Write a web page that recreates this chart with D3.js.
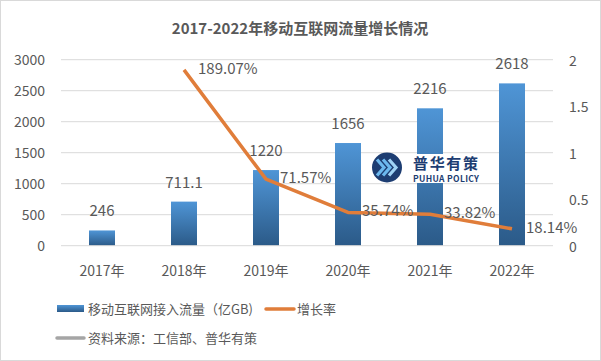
<!DOCTYPE html>
<html>
<head>
<meta charset="utf-8">
<script src="https://cdn.jsdelivr.net/npm/d3@7"></script>
<style>
  body { margin: 0; background: #fff; }
  text { font-family: "Noto Sans CJK SC", "Noto Sans", sans-serif; fill: #595959; }
</style>
</head>
<body>
<div id="chart"></div>
<script>
// data
let years = ["2017年", "2018年", "2019年", "2020年", "2021年", "2022年"];
let traffic = [246, 711.1, 1220, 1656, 2216, 2618];
let growthYears = ["2018年", "2019年", "2020年", "2021年", "2022年"];
let growth = [1.8907, 0.7157, 0.3574, 0.3382, 0.1814];
let growthLabels = ["189.07%", "71.57%", "35.74%", "33.82%", "18.14%"];
let leftTicks = [0, 500, 1000, 1500, 2000, 2500, 3000];
let rightTicks = [0, 0.5, 1, 1.5, 2];

let width = 601, height = 361;
let plotLeft = 61, plotRight = 553, plotTop = 59.7, plotBottom = 245.7;

let svg = d3.select("#chart").append("svg")
    .attr("width", width)
    .attr("height", height);

// outer frame
svg.append("rect")
  .attr("x", 0.5).attr("y", 0.5)
  .attr("width", width - 1).attr("height", height - 1)
  .attr("fill", "#fff").attr("stroke", "#d9d9d9");

let defs = svg.append("defs");
let grad = defs.append("linearGradient")
  .attr("id", "barGrad")
  .attr("x1", 0).attr("y1", 0).attr("x2", 0).attr("y2", 1);
grad.append("stop").attr("offset", "0%").attr("stop-color", "#4f95d6");
grad.append("stop").attr("offset", "100%").attr("stop-color", "#2b5a88");

let xScale = d3.scaleBand().domain(years).range([plotLeft, plotRight]);
let yLeft = d3.scaleLinear().domain([0, 3000]).range([plotBottom, plotTop]);
let yRight = d3.scaleLinear().domain([0, 2]).range([plotBottom, plotTop]);

function xMid(label) {
  return xScale(label) + xScale.bandwidth() / 2;
}

// title
svg.append("text")
  .attr("x", 300).attr("y", 34)
  .attr("text-anchor", "middle")
  .style("font-size", "15px")
  .style("font-weight", "bold")
  .text("2017-2022年移动互联网流量增长情况");

// gridlines
svg.append("g").selectAll("line")
  .data(leftTicks.slice(1))
  .enter().append("line")
  .attr("x1", plotLeft).attr("x2", plotRight)
  .attr("y1", d => yLeft(d)).attr("y2", d => yLeft(d))
  .attr("stroke", "#d9d9d9").attr("stroke-width", 1);

// left axis
let leftAxis = svg.append("g")
  .attr("transform", "translate(" + plotLeft + ",0)")
  .call(d3.axisLeft(yLeft).tickValues(leftTicks).tickSize(0).tickPadding(16)
    .tickFormat(d3.format("d")));
leftAxis.select(".domain").remove();
leftAxis.selectAll("text").style("font-size", "14px").attr("fill", "#595959");

// right axis
let rightAxis = svg.append("g")
  .attr("transform", "translate(" + plotRight + ",0)")
  .call(d3.axisRight(yRight).tickValues(rightTicks).tickSize(0).tickPadding(16)
    .tickFormat(d3.format("")));
rightAxis.select(".domain").remove();
rightAxis.selectAll("text").style("font-size", "14px").attr("fill", "#595959")
  .attr("dy", "0.4em");

// bars
let barW = 26;
svg.append("g").selectAll("rect")
  .data(traffic)
  .enter().append("rect")
  .attr("x", (d, i) => xMid(years[i]) - barW / 2)
  .attr("y", d => yLeft(d))
  .attr("width", barW)
  .attr("height", d => yLeft(0) - yLeft(d))
  .attr("fill", "url(#barGrad)");

svg.append("g").selectAll("text")
  .data(traffic)
  .enter().append("text")
  .attr("x", (d, i) => xMid(years[i]))
  .attr("y", d => yLeft(d) - 14)
  .attr("text-anchor", "middle")
  .style("font-size", "15px")
  .text(d => d);

// baseline
svg.append("line")
  .attr("x1", plotLeft).attr("x2", plotRight)
  .attr("y1", plotBottom).attr("y2", plotBottom)
  .attr("stroke", "#d9d9d9");

// watermark logo (white backed, sits over the bars)
svg.append("rect")
  .attr("x", 405).attr("y", 154).attr("width", 80).attr("height", 29)
  .attr("fill", "#fff");
let logo = svg.append("g").attr("transform", "translate(387,167.5)");
logo.append("circle").attr("r", 15).attr("fill", "#1d3d72");
[-6, 0, 6].forEach(function(dx, i) {
  logo.append("path")
    .attr("d", "M" + (dx - 4) + ",-8 L" + (dx + 3) + ",0 L" + (dx - 4) + ",8")
    .attr("fill", "none")
    .attr("stroke", i === 2 ? "#9fd3f5" : "#6cb8ee")
    .attr("stroke-width", 3.2);
});
svg.append("text")
  .attr("x", 413).attr("y", 169)
  .attr("textLength", 65)
  .style("font-size", "15px").style("font-weight", "bold")
  .style("fill", "#1d3d72")
  .text("普华有策");
svg.append("text")
  .attr("x", 413).attr("y", 182)
  .attr("textLength", 66)
  .style("font-size", "8.5px").style("font-weight", "bold")
  .style("fill", "#1d3d72")
  .text("PUHUA POLICY");

// x labels
svg.append("g").selectAll("text")
  .data(years)
  .enter().append("text")
  .attr("x", d => xMid(d))
  .attr("y", 276)
  .attr("text-anchor", "middle")
  .style("font-size", "14px")
  .text(d => d);

// growth line
let line = d3.line()
  .x((d, i) => xMid(growthYears[i]))
  .y(d => yRight(d));
svg.append("path")
  .datum(growth)
  .attr("d", line)
  .attr("fill", "none")
  .attr("stroke", "#e07d3a")
  .attr("stroke-width", 3.5)
  .attr("stroke-linejoin", "round");

svg.append("g").selectAll("text")
  .data(growth)
  .enter().append("text")
  .attr("x", (d, i) => xMid(growthYears[i]) + 14)
  .attr("y", d => yRight(d) + 4)
  .style("font-size", "15px")
  .text((d, i) => growthLabels[i]);

// legend
svg.append("rect")
  .attr("x", 57).attr("y", 305).attr("width", 27).attr("height", 7)
  .attr("fill", "url(#barGrad)");
svg.append("text")
  .attr("x", 88).attr("y", 314)
  .style("font-size", "13px")
  .text("移动互联网接入流量（亿GB)");
svg.append("line")
  .attr("x1", 266).attr("x2", 294).attr("y1", 309).attr("y2", 309)
  .attr("stroke", "#e07d3a").attr("stroke-width", 3.5).attr("stroke-linecap", "round");
svg.append("text")
  .attr("x", 297).attr("y", 314)
  .style("font-size", "13px")
  .text("增长率");
svg.append("line")
  .attr("x1", 57).attr("x2", 84).attr("y1", 338).attr("y2", 338)
  .attr("stroke", "#a5a5a5").attr("stroke-width", 3.5).attr("stroke-linecap", "round");
svg.append("text")
  .attr("x", 88).attr("y", 343)
  .style("font-size", "13px")
  .text("资料来源：工信部、普华有策");
</script>
</body>
</html>
